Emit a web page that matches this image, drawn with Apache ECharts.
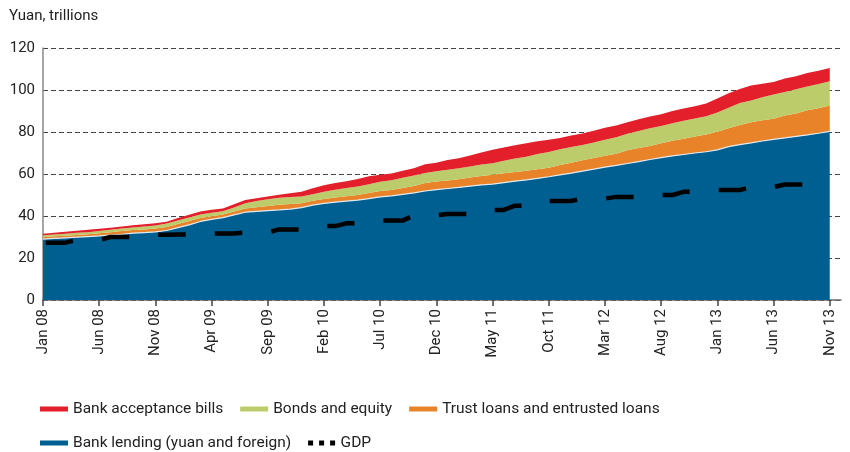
<!DOCTYPE html>
<html>
<head>
<meta charset="utf-8">
<script src="https://cdn.jsdelivr.net/npm/echarts@6/dist/echarts.min.js"></script>
<style>html,body{margin:0;padding:0;background:#fff}#c{width:850px;height:452px}</style>
</head>
<body>
<div id="c"></div>
<script>
// Month labels Jan 08 .. Nov 13, plus one empty slot at the right end of the axis
var monthNames = ['Jan','Feb','Mar','Apr','May','Jun','Jul','Aug','Sep','Oct','Nov','Dec'];
var years = ['08','09','10','11','12','13'];
var categories = [];
years.forEach(function (y) { monthNames.forEach(function (m) { categories.push(m + ' ' + y); }); });
categories = categories.slice(0, 72); // Jan 08 .. Dec 13 (Dec 13 left empty)

// Bank lending (yuan and foreign), trillions of yuan
var lending = [29.0,29.3,29.6,29.9,30.2,30.5,30.9,31.3,31.8,32.1,
  32.4,33.1,34.5,35.8,37.4,38.4,39.2,40.5,41.8,42.2,
  42.6,42.9,43.3,44.0,45.2,46.0,46.6,47.1,47.6,48.3,
  49.1,49.6,50.3,51.0,51.9,52.6,53.1,53.6,54.2,54.8,
  55.2,55.9,56.6,57.2,57.9,58.7,59.6,60.4,61.4,62.3,
  63.3,64.1,65.0,65.9,66.9,67.8,68.6,69.3,70.0,70.6,
  71.5,73.0,74.0,74.8,75.7,76.5,77.2,77.9,78.6,79.4,80.3];
// Trust loans and entrusted loans
var trust = [0.9,1.0,1.0,1.1,1.1,1.3,1.4,1.5,1.5,1.5,
  1.6,1.7,1.7,1.8,1.6,1.5,1.5,1.6,1.8,2.0,
  2.2,2.4,2.4,2.1,2.1,2.1,2.2,2.3,2.4,2.7,
  2.8,2.8,3.0,3.3,3.8,3.8,3.8,3.9,4.1,4.3,
  4.4,4.5,4.4,4.3,4.4,4.3,4.7,5.0,5.1,5.3,
  5.4,5.6,6.3,6.5,6.4,6.8,7.2,7.5,7.8,8.2,
  8.6,8.8,9.3,9.9,9.9,9.8,10.7,10.9,11.7,11.9,12.3];
// Bonds and equity
var bonds = [0.9,0.9,1.0,1.0,1.0,1.1,1.1,1.2,1.2,1.4,
  1.5,1.6,1.6,1.7,1.7,1.7,1.6,2.0,2.5,2.9,
  3.2,3.4,3.3,3.2,3.0,3.5,3.7,3.9,4.0,4.1,
  4.4,4.6,4.9,5.0,4.8,4.9,5.1,5.2,5.3,5.4,
  5.5,5.9,6.4,6.7,7.2,7.5,7.5,7.4,7.3,7.4,
  7.6,7.8,7.9,8.1,8.5,8.3,8.4,8.5,8.6,8.7,
  9.2,9.8,10.5,10.3,10.9,11.6,11.1,11.6,11.4,11.6,11.6];
// Bank acceptance bills
var bills = [0.7,0.8,0.9,1.0,1.1,1.0,1.0,1.0,1.1,1.1,
  1.0,0.9,1.2,1.3,1.4,1.4,1.3,1.5,1.5,1.3,
  1.3,1.4,1.8,2.3,2.9,3.0,3.2,3.3,3.6,3.8,
  3.4,3.2,3.3,3.4,4.1,4.1,4.7,4.8,5.2,5.7,
  6.4,6.3,6.3,6.4,6.1,5.8,5.4,5.5,5.5,5.6,
  5.7,5.6,5.5,5.6,5.6,5.6,5.8,5.9,5.9,6.1,
  6.7,6.8,6.7,7.2,6.5,5.9,6.5,6.2,6.4,6.3,6.3];
// GDP (rolling four quarters), monthly steps
var gdp = [27.3,27.3,27.3,28.6,28.6,28.6,30.0,30.0,30.0,31.1,
  31.1,31.1,31.2,31.2,31.2,31.7,31.7,31.7,32.2,32.2,
  32.2,33.6,33.6,33.6,35.2,35.2,35.2,36.5,36.5,36.5,
  37.8,37.8,37.8,40.3,40.3,40.3,41.0,41.0,41.0,42.9,
  42.9,42.9,44.9,44.9,44.9,47.2,47.2,47.2,48.3,48.3,
  48.3,49.1,49.1,49.1,50.0,50.0,50.0,51.5,51.5,51.5,
  52.4,52.4,52.4,53.8,53.8,53.8,55.0,55.0,55.0,55.3,55.3];
var yTicks = [0, 20, 40, 60, 80, 100, 120];

var FONT = 'Roboto, "Noto Sans", sans-serif';
var TXT = '#222222';
var C_BLUE = '#005f91', C_ORANGE = '#e8832a', C_GREEN = '#bdcc6a', C_RED = '#e21f2a';

function area(name, data, color, extraLine) {
  return {
    name: name, type: 'line', stack: 'total', data: data,
    showSymbol: false, symbol: 'none', silent: true,
    itemStyle: { color: color },
    lineStyle: extraLine || { width: 0, color: color },
    areaStyle: { color: color, opacity: 1 },
    z: 2
  };
}

var chart = echarts.init(document.getElementById('c'), null, { renderer: 'canvas' });
chart.setOption({
  animation: false,
  backgroundColor: '#ffffff',
  textStyle: { fontFamily: FONT },
  title: {
    text: 'Yuan, trillions', left: 4, top: 4,
    textStyle: { fontFamily: FONT, fontSize: 15, fontWeight: 'normal', color: TXT }
  },
  grid: { left: 43, right: 9, top: 48, bottom: 152, containLabel: false },
  legend: [
    {
      left: 35, top: 396, itemWidth: 28, itemHeight: 5, itemGap: 17, icon: 'rect',
      data: ['Bank acceptance bills', 'Bonds and equity', 'Trust loans and entrusted loans'],
      textStyle: { fontFamily: FONT, fontSize: 15.5, color: TXT }
    },
    {
      left: 35, top: 430, itemWidth: 28, itemHeight: 5, itemGap: 17,
      data: [
        { name: 'Bank lending (yuan and foreign)', icon: 'rect' },
        { name: 'GDP', icon: 'path://M0,0h5v5h-5z M11,0h5v5h-5z M22,0h5v5h-5z' }
      ],
      textStyle: { fontFamily: FONT, fontSize: 15.5, color: TXT }
    }
  ],
  xAxis: {
    type: 'category', data: categories, boundaryGap: false,
    axisLine: { show: true, lineStyle: { color: '#6e6e6e', width: 1.5 } },
    axisTick: { show: true, interval: 4, length: 6, lineStyle: { color: '#444', width: 1.5 } },
    axisLabel: {
      interval: 4, rotate: 90, margin: 9, fontFamily: FONT, fontSize: 15, color: TXT,
      formatter: function (v, i) { return i <= 70 ? v : ''; }
    },
    splitLine: { show: false }
  },
  yAxis: {
    type: 'value', min: yTicks[0], max: yTicks[yTicks.length - 1], interval: 20,
    axisLine: { show: true, lineStyle: { color: '#888', width: 1.5 } },
    axisTick: { show: false },
    axisLabel: { margin: 8, fontFamily: FONT, fontSize: 15, color: TXT },
    splitLine: { show: true, lineStyle: { color: '#444', width: 1, type: [5, 3] } }
  },
  series: [
    area('Bank lending (yuan and foreign)', lending, C_BLUE, { width: 1.2, color: '#dfe9ef' }),
    area('Trust loans and entrusted loans', trust, C_ORANGE),
    area('Bonds and equity', bonds, C_GREEN),
    area('Bank acceptance bills', bills, C_RED),
    {
      name: 'GDP', type: 'line', data: gdp, showSymbol: false, symbol: 'none', silent: true,
      itemStyle: { color: '#000' },
      lineStyle: { color: '#000', width: 4.5, type: [27.5, 29.2], dashOffset: 54, cap: 'butt' },
      z: 5
    }
  ]
});
</script>
</body>
</html>
